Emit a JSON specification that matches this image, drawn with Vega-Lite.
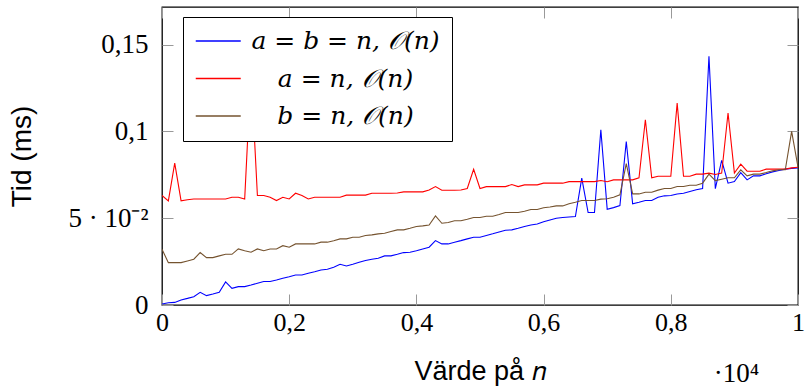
{
  "$schema": "https://vega.github.io/schema/vega-lite/v6.json",
  "width": 636,
  "height": 298,
  "autosize": {"type": "none"},
  "padding": {"left": 162, "top": 7, "right": 7, "bottom": 84},
  "background": "white",
  "config": {
    "view": {"stroke": "black", "strokeWidth": 1.3},
    "axis": {"grid": false, "domain": false, "labelFlush": false, "labelOverlap": false, "tickColor": "#999999", "tickWidth": 1, "tickSize": -11, "labelColor": "black", "titleColor": "black", "titleFontWeight": "normal"}
  },
  "data": {"values": [
    {"n":0,"ab":0.0006,"a":0.0631,"b":0.0321},
    {"n":100,"ab":0.0013,"a":0.0600,"b":0.0244},
    {"n":200,"ab":0.0015,"a":0.0817,"b":0.0244},
    {"n":300,"ab":0.0029,"a":0.0600,"b":0.0244},
    {"n":400,"ab":0.0038,"a":0.0606,"b":0.0254},
    {"n":500,"ab":0.0048,"a":0.0611,"b":0.0264},
    {"n":600,"ab":0.0073,"a":0.0611,"b":0.0302},
    {"n":700,"ab":0.0054,"a":0.0611,"b":0.0273},
    {"n":800,"ab":0.0063,"a":0.0611,"b":0.0273},
    {"n":900,"ab":0.0073,"a":0.0611,"b":0.0283},
    {"n":1000,"ab":0.0133,"a":0.0611,"b":0.0292},
    {"n":1100,"ab":0.0096,"a":0.0621,"b":0.0292},
    {"n":1200,"ab":0.0106,"a":0.0621,"b":0.0323},
    {"n":1300,"ab":0.0106,"a":0.0611,"b":0.0313},
    {"n":1400,"ab":0.0115,"a":0.1350,"b":0.0304},
    {"n":1500,"ab":0.0125,"a":0.0631,"b":0.0323},
    {"n":1600,"ab":0.0135,"a":0.0631,"b":0.0313},
    {"n":1700,"ab":0.0135,"a":0.0621,"b":0.0323},
    {"n":1800,"ab":0.0144,"a":0.0602,"b":0.0323},
    {"n":1900,"ab":0.0154,"a":0.0621,"b":0.0342},
    {"n":2000,"ab":0.0163,"a":0.0611,"b":0.0333},
    {"n":2100,"ab":0.0173,"a":0.0644,"b":0.0352},
    {"n":2200,"ab":0.0173,"a":0.0631,"b":0.0352},
    {"n":2300,"ab":0.0183,"a":0.0611,"b":0.0352},
    {"n":2400,"ab":0.0192,"a":0.0621,"b":0.0352},
    {"n":2500,"ab":0.0202,"a":0.0621,"b":0.0362},
    {"n":2600,"ab":0.0206,"a":0.0621,"b":0.0362},
    {"n":2700,"ab":0.0217,"a":0.0621,"b":0.0370},
    {"n":2800,"ab":0.0235,"a":0.0621,"b":0.0381},
    {"n":2900,"ab":0.0225,"a":0.0633,"b":0.0381},
    {"n":3000,"ab":0.0235,"a":0.0633,"b":0.0390},
    {"n":3100,"ab":0.0246,"a":0.0633,"b":0.0390},
    {"n":3200,"ab":0.0256,"a":0.0633,"b":0.0400},
    {"n":3300,"ab":0.0264,"a":0.0644,"b":0.0404},
    {"n":3400,"ab":0.0269,"a":0.0644,"b":0.0410},
    {"n":3500,"ab":0.0283,"a":0.0644,"b":0.0413},
    {"n":3600,"ab":0.0283,"a":0.0644,"b":0.0423},
    {"n":3700,"ab":0.0292,"a":0.0645,"b":0.0433},
    {"n":3800,"ab":0.0302,"a":0.0652,"b":0.0433},
    {"n":3900,"ab":0.0304,"a":0.0652,"b":0.0442},
    {"n":4000,"ab":0.0313,"a":0.0652,"b":0.0452},
    {"n":4100,"ab":0.0323,"a":0.0652,"b":0.0456},
    {"n":4200,"ab":0.0333,"a":0.0663,"b":0.0461},
    {"n":4300,"ab":0.0371,"a":0.0682,"b":0.0513},
    {"n":4400,"ab":0.0352,"a":0.0661,"b":0.0471},
    {"n":4500,"ab":0.0352,"a":0.0661,"b":0.0475},
    {"n":4600,"ab":0.0362,"a":0.0661,"b":0.0485},
    {"n":4700,"ab":0.0371,"a":0.0663,"b":0.0485},
    {"n":4800,"ab":0.0381,"a":0.0671,"b":0.0494},
    {"n":4900,"ab":0.0390,"a":0.0782,"b":0.0504},
    {"n":5000,"ab":0.0390,"a":0.0671,"b":0.0504},
    {"n":5100,"ab":0.0400,"a":0.0682,"b":0.0511},
    {"n":5200,"ab":0.0410,"a":0.0682,"b":0.0511},
    {"n":5300,"ab":0.0421,"a":0.0682,"b":0.0521},
    {"n":5400,"ab":0.0431,"a":0.0682,"b":0.0533},
    {"n":5500,"ab":0.0433,"a":0.0694,"b":0.0533},
    {"n":5600,"ab":0.0442,"a":0.0682,"b":0.0533},
    {"n":5700,"ab":0.0452,"a":0.0692,"b":0.0540},
    {"n":5800,"ab":0.0461,"a":0.0692,"b":0.0550},
    {"n":5900,"ab":0.0467,"a":0.0692,"b":0.0550},
    {"n":6000,"ab":0.0480,"a":0.0702,"b":0.0560},
    {"n":6100,"ab":0.0490,"a":0.0702,"b":0.0565},
    {"n":6200,"ab":0.0500,"a":0.0702,"b":0.0571},
    {"n":6300,"ab":0.0504,"a":0.0702,"b":0.0571},
    {"n":6400,"ab":0.0507,"a":0.0711,"b":0.0583},
    {"n":6500,"ab":0.0510,"a":0.0711,"b":0.0592},
    {"n":6600,"ab":0.0731,"a":0.0711,"b":0.0602},
    {"n":6700,"ab":0.0533,"a":0.0711,"b":0.0602},
    {"n":6800,"ab":0.0533,"a":0.0711,"b":0.0602},
    {"n":6900,"ab":0.1010,"a":0.0717,"b":0.0610},
    {"n":7000,"ab":0.0552,"a":0.0710,"b":0.0612},
    {"n":7100,"ab":0.0561,"a":0.0721,"b":0.0621},
    {"n":7200,"ab":0.0573,"a":0.0721,"b":0.0635},
    {"n":7300,"ab":0.0942,"a":0.0721,"b":0.0814},
    {"n":7400,"ab":0.0583,"a":0.0721,"b":0.0640},
    {"n":7500,"ab":0.0592,"a":0.0733,"b":0.0640},
    {"n":7600,"ab":0.0602,"a":0.1067,"b":0.0650},
    {"n":7700,"ab":0.0602,"a":0.0733,"b":0.0650},
    {"n":7800,"ab":0.0621,"a":0.0742,"b":0.0662},
    {"n":7900,"ab":0.0629,"a":0.0742,"b":0.0671},
    {"n":8000,"ab":0.0631,"a":0.0742,"b":0.0671},
    {"n":8100,"ab":0.0640,"a":0.1163,"b":0.0683},
    {"n":8200,"ab":0.0644,"a":0.0742,"b":0.0683},
    {"n":8300,"ab":0.0654,"a":0.0742,"b":0.0690},
    {"n":8400,"ab":0.0664,"a":0.0754,"b":0.0690},
    {"n":8500,"ab":0.0671,"a":0.0754,"b":0.0702},
    {"n":8600,"ab":0.1433,"a":0.0760,"b":0.0754},
    {"n":8700,"ab":0.0670,"a":0.0752,"b":0.0717},
    {"n":8800,"ab":0.0833,"a":0.0760,"b":0.0725},
    {"n":8900,"ab":0.0702,"a":0.1106,"b":0.0733},
    {"n":9000,"ab":0.0711,"a":0.0760,"b":0.0733},
    {"n":9100,"ab":0.0763,"a":0.0812,"b":0.0779},
    {"n":9200,"ab":0.0721,"a":0.0771,"b":0.0744},
    {"n":9300,"ab":0.0744,"a":0.0771,"b":0.0754},
    {"n":9400,"ab":0.0744,"a":0.0771,"b":0.0754},
    {"n":9500,"ab":0.0756,"a":0.0783,"b":0.0763},
    {"n":9600,"ab":0.0767,"a":0.0783,"b":0.0773},
    {"n":9700,"ab":0.0775,"a":0.0783,"b":0.0779},
    {"n":9800,"ab":0.0783,"a":0.0783,"b":0.0779},
    {"n":9900,"ab":0.0787,"a":0.0790,"b":0.1000},
    {"n":10000,"ab":0.0790,"a":0.0794,"b":0.0794}
  ]},
  "transform": [{"fold": ["ab", "a", "b"], "as": ["serie", "tid"]}],
  "layer": [
    {
      "mark": {"type": "line", "strokeWidth": 1.1, "clip": true},
      "encoding": {
        "x": {
          "field": "n", "type": "quantitative",
          "scale": {"domain": [0, 10000], "nice": false, "zero": false},
          "axis": {
            "orient": "bottom",
            "values": [0, 2000, 4000, 6000, 8000, 10000],
            "labelExpr": "datum.value == 0 ? '0' : datum.value == 10000 ? '1' : replace(format(datum.value / 10000, '.1f'), '.', ',')",
            "labelFont": "Liberation Serif", "labelFontSize": 26, "labelPadding": 15,
            "title": "Värde på 𝑛", "titleFont": "Liberation Sans", "titleFontSize": 27, "titlePadding": 23
          }
        },
        "y": {
          "field": "tid", "type": "quantitative",
          "scale": {"domain": [0, 0.1717], "nice": false},
          "axis": {
            "orient": "left",
            "values": [0, 0.05, 0.1, 0.15],
            "labelExpr": "datum.value == 0 ? '0' : datum.value == 0.05 ? '5 · 10⁻²' : datum.value == 0.1 ? '0,1' : '0,15'",
            "labelFont": "Liberation Serif", "labelFontSize": 27, "labelPadding": 25,
            "title": "Tid (ms)", "titleFont": "Liberation Sans", "titleFontSize": 28,
            "titleX": -140, "titleY": 149, "titleAngle": -90, "titleAlign": "center", "titleBaseline": "middle"
          }
        },
        "color": {
          "field": "serie", "type": "nominal",
          "scale": {"domain": ["ab", "a", "b"], "range": ["#0000ff", "#ff0000", "#75532f"]},
          "legend": {
            "orient": "none", "legendX": 21, "legendY": 10,
            "title": null,
            "fillColor": "white", "strokeColor": "black", "cornerRadius": 0, "padding": 11.5,
            "symbolType": "M-1,0H3", "symbolSize": 506, "symbolStrokeWidth": 1.4,
            "labelFont": "DejaVu Serif", "labelFontSize": 25, "labelFontStyle": "italic", "labelColor": "black",
            "labelAlign": "center", "labelOffset": 126, "labelLimit": 400, "rowPadding": 11.5,
            "labelExpr": "datum.value == 'ab' ? 'a = b = n, 𝒪(n)' : datum.value == 'a' ? 'a = n, 𝒪(n)' : 'b = n, 𝒪(n)'"
          }
        }
      }
    },
    {
      "mark": {"type": "point", "opacity": 0},
      "encoding": {
        "x": {
          "field": "n", "type": "quantitative",
          "axis": {
            "orient": "top", "values": [0, 2000, 4000, 6000, 8000, 10000], "labels": false,
            "title": "·10⁴", "titleFont": "Liberation Serif", "titleFontSize": 27, "titleAngle": 0,
            "titleX": 574, "titleY": 366, "titleAlign": "center", "titleBaseline": "middle"
          }
        },
        "y": {
          "field": "tid", "type": "quantitative",
          "axis": {"orient": "right", "values": [0, 0.05, 0.1, 0.15], "labels": false, "title": null}
        }
      }
    }
  ],
  "resolve": {"axis": {"x": "independent", "y": "independent"}}
}
